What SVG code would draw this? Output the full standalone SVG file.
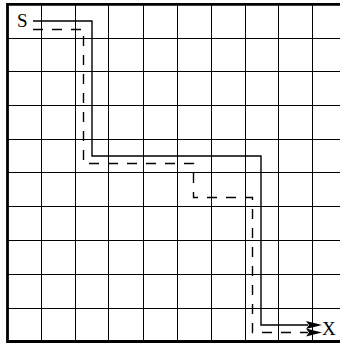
<svg xmlns="http://www.w3.org/2000/svg" width="340" height="345" viewBox="0 0 340 345">
<style>
.grid line{stroke:#000;stroke-width:1}
.border{stroke:#000;stroke-width:2.8;fill:none}
.route{fill:none;stroke:#000;stroke-width:1.4}
.dash{stroke-dasharray:10 9}
.lbl{font-family:"Liberation Serif","Times New Roman",serif;font-size:19px;fill:#000}
</style>
<defs>
<marker id="arr" markerUnits="userSpaceOnUse" markerWidth="17" markerHeight="9" refX="2" refY="4" orient="auto">
<path d="M0,0 L16,4 L0,8 L3,4 z" fill="#000"/>
</marker>
</defs>
<rect width="340" height="345" fill="#fff"/>
<g class="grid" id="grid">
<line x1="41.5" y1="4" x2="41.5" y2="341"/>
<line x1="75.5" y1="4" x2="75.5" y2="341"/>
<line x1="108.5" y1="4" x2="108.5" y2="341"/>
<line x1="143.5" y1="4" x2="143.5" y2="341"/>
<line x1="177.5" y1="4" x2="177.5" y2="341"/>
<line x1="211.5" y1="4" x2="211.5" y2="341"/>
<line x1="245.5" y1="4" x2="245.5" y2="341"/>
<line x1="278.5" y1="4" x2="278.5" y2="341"/>
<line x1="312.5" y1="4" x2="312.5" y2="341"/>
<line x1="7" y1="38.5" x2="340" y2="38.5"/>
<line x1="7" y1="71.5" x2="340" y2="71.5"/>
<line x1="7" y1="105.5" x2="340" y2="105.5"/>
<line x1="7" y1="139.5" x2="340" y2="139.5"/>
<line x1="7" y1="172.5" x2="340" y2="172.5"/>
<line x1="7" y1="206.5" x2="340" y2="206.5"/>
<line x1="7" y1="240.5" x2="340" y2="240.5"/>
<line x1="7" y1="274.5" x2="340" y2="274.5"/>
<line x1="7" y1="308.5" x2="340" y2="308.5"/>
</g>
<path class="border" d="M340,4.3 H7.5 V341.5 H340"/>
<g id="connectors">
<path class="route" d="M33,21 H92 V156 H261 V325 H308" marker-end="url(#arr)"/>
<path class="route dash" d="M33,29.5 H83.5 V163.5 H193.5 V197.5 H252.5 V332.5 H308" marker-end="url(#arr)"/>
</g>
<g id="S"><text class="lbl" x="17" y="27">S</text></g>
<g id="X"><text class="lbl" x="322" y="335">X</text></g>
</svg>
